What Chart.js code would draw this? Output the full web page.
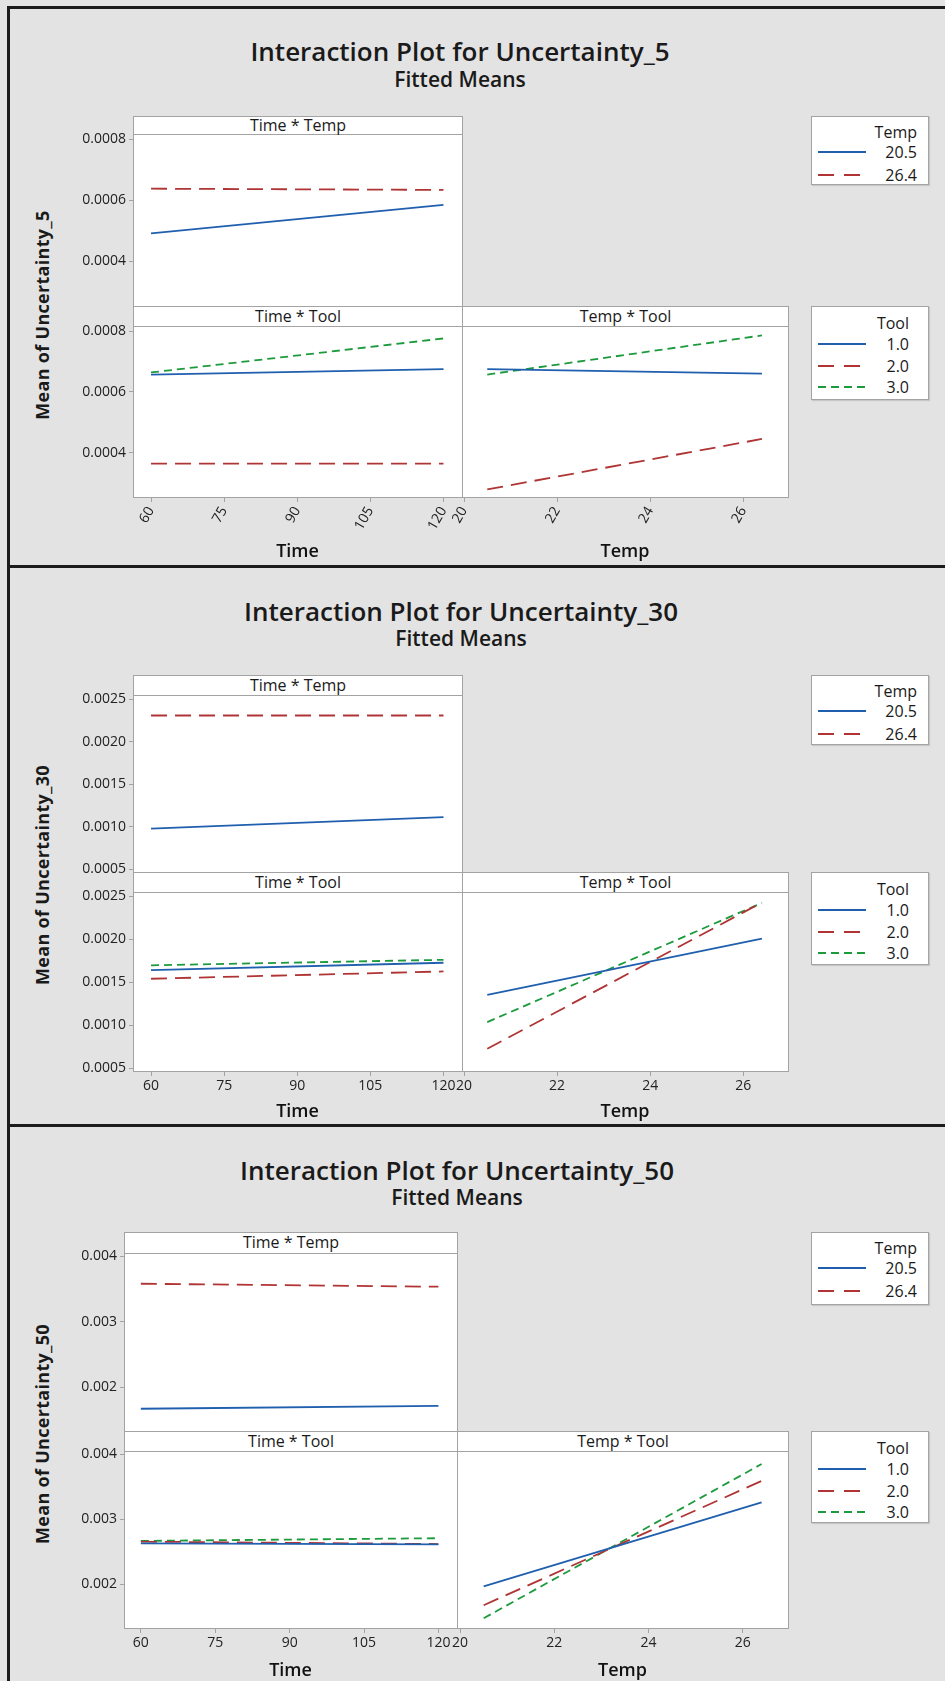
<!DOCTYPE html>
<html>
<head>
<meta charset="utf-8">
<script src="https://cdn.jsdelivr.net/npm/chart.js@4.4.1/dist/chart.umd.min.js"></script>
<style>
  html, body { margin: 0; padding: 0; }
  body { background: #e3e3e3; font-family: 'Open Sans', sans-serif; color: #1a1a1a; }
  #page { position: relative; width: 945px; height: 1681px; overflow: hidden; background: #e3e3e3; }
  .rule { position: absolute; background: #1c1c1c; }
  .title { position: absolute; left: 0; width: 920px; text-align: center; font-weight: 600; font-size: 26px; white-space: nowrap; }
  .sub { position: absolute; left: 0; width: 920px; text-align: center; font-weight: 600; font-size: 21px; white-space: nowrap; }
  .ytitle { position: absolute; width: 400px; text-align: center; font-weight: 700; font-size: 18px; transform: rotate(-90deg); white-space: nowrap; letter-spacing: 0.3px; }
  .panel { position: absolute; box-sizing: border-box; background: #fff; border: 1px solid #a3a3a3; }
  .strip { position: absolute; left: 0; right: 0; top: 0; box-sizing: border-box; border-bottom: 1px solid #a3a3a3; text-align: center; font-size: 16px; }
  .legend { position: absolute; box-sizing: border-box; background: #fff; border: 1px solid #a3a3a3; box-shadow: 1px 1px 1px #c8c8c8; }
  .legend div { position: absolute; font-size: 16px; white-space: nowrap; }
  .legend svg { position: absolute; }
</style>
</head>
<body>
<div id="page"></div>
<script>
// levels and ticks
const timeX = [60, 120];
const tempX = [20.5, 26.4];
const timeTicks = [60, 75, 90, 105, 120];
const tempTicks = [20, 22, 24, 26];
const tempLevels = ['20.5', '26.4'];
const toolLevels = ['1.0', '2.0', '3.0'];

// Uncertainty_5 fitted means
const u5TimeTemp205 = [0.000492, 0.000585];
const u5TimeTemp264 = [0.000638, 0.000634];
const u5TimeTool1 = [0.000657, 0.000675];
const u5TimeTool2 = [0.000364, 0.000364];
const u5TimeTool3 = [0.000664, 0.000776];
const u5TempTool1 = [0.000675, 0.000660];
const u5TempTool2 = [0.000279, 0.000445];
const u5TempTool3 = [0.000657, 0.000786];
const u5Ticks = [0.0004, 0.0006, 0.0008];

// Uncertainty_30 fitted means
const u30TimeTemp205 = [0.000979, 0.001114];
const u30TimeTemp264 = [0.002309, 0.002309];
const u30TimeTool1 = [0.001643, 0.001728];
const u30TimeTool2 = [0.001542, 0.001627];
const u30TimeTool3 = [0.001698, 0.001762];
const u30TempTool1 = [0.001355, 0.002008];
const u30TempTool2 = [0.000728, 0.002428];
const u30TempTool3 = [0.001038, 0.002423];
const u30Ticks = [0.0005, 0.0010, 0.0015, 0.0020, 0.0025];

// Uncertainty_50 fitted means
const u50TimeTemp205 = [0.001670, 0.001715];
const u50TimeTemp264 = [0.003580, 0.003535];
const u50TimeTool1 = [0.002630, 0.002614];
const u50TimeTool2 = [0.002657, 0.002620];
const u50TimeTool3 = [0.002668, 0.002710];
const u50TempTool1 = [0.001968, 0.003260];
const u50TempTool2 = [0.001680, 0.003590];
const u50TempTool3 = [0.001480, 0.003850];
const u50Ticks = [0.002, 0.003, 0.004];

const styles = [
  { color: '#1f5fae', dash: [] },
  { color: '#b03434', dash: [16, 8] },
  { color: '#1c9a3c', dash: [8, 5] }
];

const page = document.getElementById('page');

function el(cls, css, html) {
  const d = document.createElement('div');
  d.className = cls;
  d.style.cssText = css;
  if (html !== undefined) d.innerHTML = html;
  page.appendChild(d);
  return d;
}

function lines(xs, series, labels) {
  return series.map((ys, i) => ({
    label: labels[i],
    data: xs.map((x, j) => ({ x: x, y: ys[j] })),
    borderColor: styles[i].color,
    borderDash: styles[i].dash,
    borderWidth: 1.8,
    pointRadius: 0,
    tension: 0,
    fill: false
  }));
}

function panelChart(o) {
  const P = 24;
  const L = o.showY ? 60 : 0;
  const B = o.showX ? o.B : 0;
  const w = (o.right - o.left) + L + 2 * P;
  const h = (o.bottom - o.top) + B + 2 * P;
  const cv = document.createElement('canvas');
  cv.width = w;
  cv.height = h;
  cv.style.cssText = 'position:absolute;z-index:2;left:' + (o.left - L - P) + 'px;top:' + (o.top - P) + 'px;width:' + w + 'px;height:' + h + 'px';
  page.appendChild(cv);
  new Chart(cv.getContext('2d'), {
    type: 'line',
    data: { datasets: o.datasets },
    options: {
      responsive: false,
      animation: false,
      devicePixelRatio: 1,
      layout: { padding: P },
      plugins: { legend: { display: false }, tooltip: { enabled: false } },
      scales: {
        x: {
          type: 'linear',
          min: o.xMin,
          max: o.xMax,
          display: o.showX,
          afterBuildTicks: s => { s.ticks = o.xTicks.map(v => ({ value: v })); },
          afterFit: s => { s.height = B; s.paddingLeft = 0; s.paddingRight = 0; },
          grid: { drawOnChartArea: false, drawTicks: true, tickLength: 5, color: '#a3a3a3' },
          border: { display: false },
          ticks: {
            autoSkip: false, minRotation: o.rot, maxRotation: o.rot, padding: 2,
            color: '#222', font: { family: 'Open Sans', size: 14 }
          },
          title: {
            display: true, text: o.xTitle, padding: 0, color: '#111',
            font: { family: 'Open Sans', size: 18, weight: '600' }
          }
        },
        y: {
          type: 'linear',
          min: o.yMin,
          max: o.yMax,
          display: o.showY,
          afterBuildTicks: s => { s.ticks = o.yTicks.map(v => ({ value: v })); },
          afterFit: s => { s.width = L; s.paddingTop = 0; s.paddingBottom = 0; },
          grid: { drawOnChartArea: false, drawTicks: true, tickLength: 4, color: '#a3a3a3' },
          border: { display: false },
          ticks: {
            padding: 3, color: '#222', font: { family: 'Open Sans', size: 14 },
            callback: v => v.toFixed(o.dec)
          }
        }
      }
    }
  });
}

function legend(x, y, w, h, title, labels, rowY, titleY, textRight) {
  const box = el('legend', 'left:' + x + 'px;top:' + y + 'px;width:' + w + 'px;height:' + h + 'px');
  const t = document.createElement('div');
  t.textContent = title;
  t.style.cssText = 'right:' + (w - textRight - 1) + 'px;top:' + (titleY - 11) + 'px';
  box.appendChild(t);
  labels.forEach((lab, i) => {
    const s = styles[i];
    const svgNS = 'http://www.w3.org/2000/svg';
    const svg = document.createElementNS(svgNS, 'svg');
    svg.setAttribute('width', '50');
    svg.setAttribute('height', '6');
    svg.style.left = '6px';
    svg.style.top = (rowY[i] - 3) + 'px';
    const ln = document.createElementNS(svgNS, 'line');
    ln.setAttribute('x1', '0'); ln.setAttribute('y1', '3');
    ln.setAttribute('x2', '48'); ln.setAttribute('y2', '3');
    ln.setAttribute('stroke', s.color);
    ln.setAttribute('stroke-width', '2');
    if (s.dash.length) ln.setAttribute('stroke-dasharray', i === 1 ? '16 10' : '8 5');
    svg.appendChild(ln);
    box.appendChild(svg);
    const d = document.createElement('div');
    d.textContent = lab;
    d.style.cssText = 'right:' + (w - textRight - 1) + 'px;top:' + (rowY[i] - 11) + 'px';
    box.appendChild(d);
  });
}

function section(g, name, yr, yTicks, dec, xr, series) {
  el('title', 'top:' + (g.titleY - 18) + 'px;left:' + (g.cx - 460) + 'px', 'Interaction Plot for ' + name);
  el('sub', 'top:' + (g.subY - 15) + 'px;left:' + (g.cx - 460) + 'px', 'Fitted Means');
  el('ytitle', 'left:' + (42 - 200) + 'px;top:' + (g.yTitleY - 13) + 'px', 'Mean of ' + name);

  const panels = [
    [g.pl, g.uHead, g.pm, g.uTop, g.uBot, 'Time * Temp'],
    [g.pl, g.lHead, g.pm, g.lTop, g.lBot, 'Time * Tool'],
    [g.pm, g.lHead, g.pr, g.lTop, g.lBot, 'Temp * Tool']
  ];
  panels.forEach(p => {
    const d = el('panel', 'left:' + p[0] + 'px;top:' + p[1] + 'px;width:' + (p[2] - p[0] + 1) + 'px;height:' + (p[4] - p[1] + 1) + 'px');
    const s = document.createElement('div');
    s.className = 'strip';
    s.style.height = (p[3] - p[1]) + 'px';
    s.style.lineHeight = (p[3] - p[1] - 2) + 'px';
    s.textContent = p[5];
    d.appendChild(s);
  });

  legend(811, g.uHead, 118, g.leg1H, 'Temp', tempLevels, [35, 58], 15, 106);
  legend(811, g.lHead, 118, g.leg2H, 'Tool', toolLevels, [37, 59, 80], 16, 98);

  const common = { yMin: yr[0], yMax: yr[1], yTicks: yTicks, dec: dec, rot: g.rot, B: g.B };
  panelChart(Object.assign({}, common, {
    left: g.pl, right: g.pm, top: g.uTop, bottom: g.uBot, showY: true, showX: false,
    xMin: xr.time[0], xMax: xr.time[1], xTicks: timeTicks, xTitle: 'Time',
    datasets: lines(timeX, series.timeTemp, tempLevels)
  }));
  panelChart(Object.assign({}, common, {
    left: g.pl, right: g.pm, top: g.lTop, bottom: g.lBot, showY: true, showX: true,
    xMin: xr.time[0], xMax: xr.time[1], xTicks: timeTicks, xTitle: 'Time',
    datasets: lines(timeX, series.timeTool, toolLevels)
  }));
  panelChart(Object.assign({}, common, {
    left: g.pm, right: g.pr, top: g.lTop, bottom: g.lBot, showY: false, showX: true,
    xMin: xr.temp[0], xMax: xr.temp[1], xTicks: tempTicks, xTitle: 'Temp',
    datasets: lines(tempX, series.tempTool, toolLevels)
  }));
}

// frame rules
el('rule', 'left:7px;top:6px;width:940px;height:3px');
el('rule', 'left:7px;top:6px;width:3px;height:1681px');
el('rule', 'left:7px;top:565px;width:940px;height:3px');
el('rule', 'left:7px;top:1124px;width:940px;height:3px');

section(
  { cx: 460, titleY: 51, subY: 80, yTitleY: 316, pl: 133, pm: 462, pr: 788,
    uHead: 116, uTop: 134, uBot: 306, lHead: 306, lTop: 326, lBot: 497,
    leg1H: 69, leg2H: 94, rot: 60, B: 66 },
  'Uncertainty_5', [0.000254, 0.000817], u5Ticks, 4,
  { time: [56.3, 123.8], temp: [19.957, 26.96] },
  { timeTemp: [u5TimeTemp205, u5TimeTemp264],
    timeTool: [u5TimeTool1, u5TimeTool2, u5TimeTool3],
    tempTool: [u5TempTool1, u5TempTool2, u5TempTool3] }
);

section(
  { cx: 461, titleY: 611, subY: 639, yTitleY: 876, pl: 133, pm: 462, pr: 788,
    uHead: 675, uTop: 695, uBot: 872, lHead: 872, lTop: 892, lBot: 1071,
    leg1H: 70, leg2H: 93, rot: 0, B: 52 },
  'Uncertainty_30', [0.00047, 0.00255], u30Ticks, 4,
  { time: [56.3, 123.8], temp: [19.957, 26.96] },
  { timeTemp: [u30TimeTemp205, u30TimeTemp264],
    timeTool: [u30TimeTool1, u30TimeTool2, u30TimeTool3],
    tempTool: [u30TempTool1, u30TempTool2, u30TempTool3] }
);

section(
  { cx: 457, titleY: 1170, subY: 1198, yTitleY: 1435, pl: 124, pm: 457, pr: 788,
    uHead: 1232, uTop: 1253, uBot: 1431, lHead: 1431, lTop: 1451, lBot: 1628,
    leg1H: 73, leg2H: 92, rot: 0, B: 54 },
  'Uncertainty_50', [0.00133, 0.00405], u50Ticks, 3,
  { time: [56.6, 123.75], temp: [19.934, 26.96] },
  { timeTemp: [u50TimeTemp205, u50TimeTemp264],
    timeTool: [u50TimeTool1, u50TimeTool2, u50TimeTool3],
    tempTool: [u50TempTool1, u50TempTool2, u50TempTool3] }
);
</script>
</body>
</html>
